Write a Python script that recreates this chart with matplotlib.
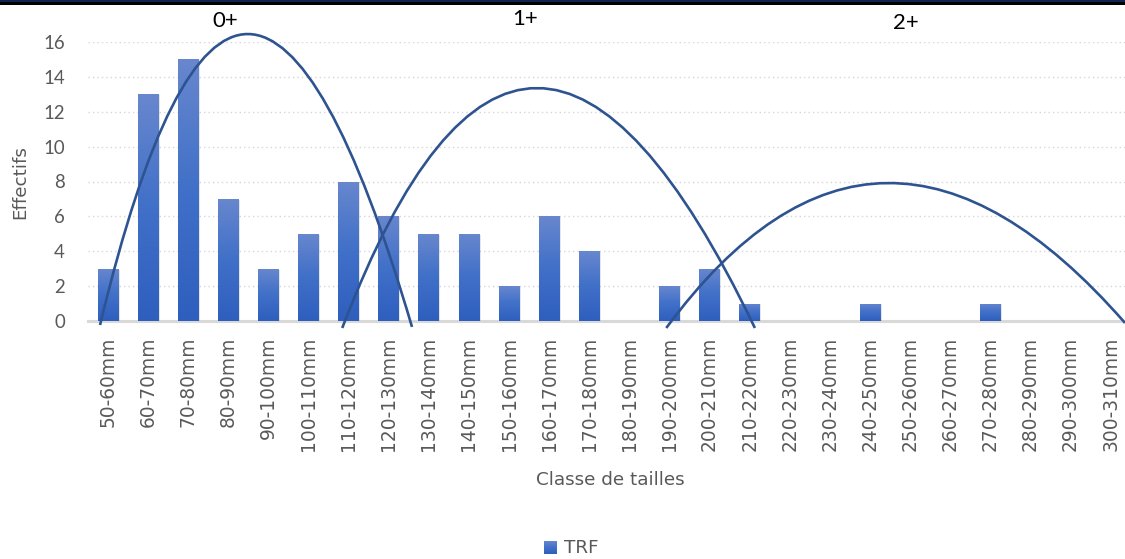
import numpy as np
import matplotlib
matplotlib.use("Agg")
import matplotlib.pyplot as plt
from matplotlib.path import Path
from matplotlib.patches import PathPatch, Rectangle
from matplotlib.colors import LinearSegmentedColormap

# ---------------- data ----------------
categories = ["50-60mm", "60-70mm", "70-80mm", "80-90mm", "90-100mm", "100-110mm",
              "110-120mm", "120-130mm", "130-140mm", "140-150mm", "150-160mm",
              "160-170mm", "170-180mm", "180-190mm", "190-200mm", "200-210mm",
              "210-220mm", "220-230mm", "230-240mm", "240-250mm", "250-260mm",
              "260-270mm", "270-280mm", "280-290mm", "290-300mm", "300-310mm"]
trf_values = [3, 13, 15, 7, 3, 5, 8, 6, 5, 5, 2, 6, 4, 0, 2, 3, 1, 0, 0, 1, 0, 0, 1, 0, 0, 0]
y_ticks = [0, 2, 4, 6, 8, 10, 12, 14, 16]

# hand-drawn cohort curves (quadratic Bezier control points, in category / count units)
cohort_labels = ["0+", "1+", "2+"]
cohort_label_pos = [(2.93, 17.2), (10.4, 17.3), (19.9, 17.1)]
curve_0 = [(-0.20, -0.23), (3.29, 33.2), (7.58, -0.34)]
curve_1 = [(5.84, -0.40), (10.41, 27.12), (16.13, -0.40)]
curve_2 = [(13.92, -0.40), (19.21, 16.08), (25.36, -0.11)]

# ---------------- figure ----------------
W, H, DPI = 1125, 559, 100
fig = plt.figure(figsize=(W / DPI, H / DPI), dpi=DPI)
NUMFONT = "Lato"
TXTFONT = "DejaVu Sans"
GRAY = "#595959"

ax = fig.add_axes([88 / W, 1 - 321 / H, 1 - 88 / W, (321 - 42) / H])
ax.set_xlim(-0.5, 25.36)
ax.set_ylim(0, 16)

for s in ax.spines.values():
    s.set_visible(False)

ax.set_yticks(y_ticks)
ax.set_yticklabels([str(v) for v in y_ticks], fontsize=13.4, color=GRAY, family=NUMFONT)
ax.yaxis.grid(True, linestyle=(0, (1, 2.2)), color="#D6D6D6", linewidth=1.0)
ax.set_axisbelow(True)
ax.tick_params(axis="both", length=0)
ax.tick_params(axis="y", pad=16.5)

x = np.arange(len(categories))
ax.set_xticks(x)
ax.set_xticklabels(categories, rotation=90, fontsize=13.4, color=GRAY, family=TXTFONT)
ax.tick_params(axis="x", pad=11.5)

# baseline
ax.axhline(0, color="#D9D9D9", linewidth=2.2, zorder=2, clip_on=False)

# gradient bars
cmap = LinearSegmentedColormap.from_list("grad", ["#2F5FBE", "#4070C8", "#6887CE"])
grad = np.linspace(0, 1, 256).reshape(-1, 1)
bar_w = 0.52
bars = ax.bar(x, trf_values, width=bar_w, color="none", edgecolor="none", zorder=3)
for rect, v in zip(bars, trf_values):
    if v <= 0:
        continue
    x0 = rect.get_x()
    sh = Rectangle((x0 + 0.03, -0.05), bar_w, v, facecolor="#000000", alpha=0.10,
                   edgecolor="none", zorder=2.5)
    ax.add_patch(sh)
    im = ax.imshow(grad, extent=(x0, x0 + bar_w, 0, v), origin="lower", cmap=cmap,
                   aspect="auto", zorder=3, interpolation="bilinear")
    clip = Rectangle((x0, 0), bar_w, v, transform=ax.transData, facecolor="none",
                     edgecolor="none")
    ax.add_patch(clip)
    im.set_clip_path(clip)
ax.set_xlim(-0.5, 25.36)
ax.set_ylim(0, 16)

# cohort curves
for pts in (curve_0, curve_1, curve_2):
    path = Path(pts, [Path.MOVETO, Path.CURVE3, Path.CURVE3])
    ax.add_patch(PathPatch(path, facecolor="none", edgecolor="#2E5391", linewidth=1.9,
                           zorder=5, clip_on=False))

for lab, (lx, ly) in zip(cohort_labels, cohort_label_pos):
    ax.text(lx, ly, lab, fontsize=16, family=NUMFONT, color="black", ha="center",
            va="center", clip_on=False)

# axis titles
fig.text(20 / W, 1 - 182 / H, "Effectifs", rotation=90, fontsize=13.2, family=TXTFONT,
         color=GRAY, ha="center", va="center")
fig.text(610 / W, 1 - 480 / H, "Classe de tailles", fontsize=13.2, family=TXTFONT,
         color=GRAY, ha="center", va="center")

# legend
leg_ax = fig.add_axes([544 / W, 1 - 554 / H, 13 / W, 13 / H])
leg_ax.imshow(grad, extent=(0, 1, 0, 1), origin="lower", cmap=cmap, aspect="auto")
leg_ax.axis("off")
fig.text(564 / W, 1 - 548 / H, "TRF", fontsize=13.2, family=TXTFONT, color=GRAY,
         ha="left", va="center")

# top frame line
fig.add_artist(Rectangle((0, 1 - 5 / H), 1, 5 / H, transform=fig.transFigure,
                         facecolor="black", edgecolor="none"))
fig.add_artist(Rectangle((0, 1 - 2 / H), 1, 2 / H, transform=fig.transFigure,
                         facecolor="#0F2450", edgecolor="none"))

fig.savefig("out.png", dpi=DPI)
